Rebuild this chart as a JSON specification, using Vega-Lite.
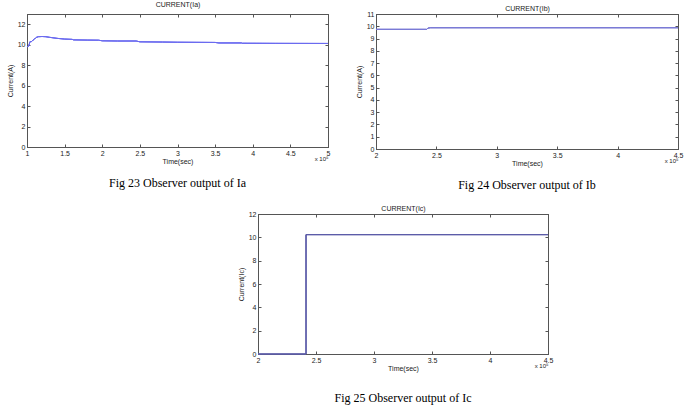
{
  "$schema": "https://vega.github.io/schema/vega-lite/v6.json",
  "background": "white",
  "padding": {"left": 5, "top": 0, "right": 4, "bottom": 4},
  "datasets": {
    "ia": [
      {"t": 1.00, "i": 9.80}, {"t": 1.02, "i": 9.85}, {"t": 1.03, "i": 10.05}, {"t": 1.04, "i": 10.30},
      {"t": 1.06, "i": 10.30}, {"t": 1.08, "i": 10.45}, {"t": 1.10, "i": 10.55}, {"t": 1.12, "i": 10.70},
      {"t": 1.15, "i": 10.78}, {"t": 1.20, "i": 10.80}, {"t": 1.25, "i": 10.78}, {"t": 1.30, "i": 10.72},
      {"t": 1.40, "i": 10.62}, {"t": 1.50, "i": 10.55}, {"t": 1.60, "i": 10.52}, {"t": 1.62, "i": 10.47},
      {"t": 1.80, "i": 10.45}, {"t": 1.95, "i": 10.44}, {"t": 2.00, "i": 10.38}, {"t": 2.20, "i": 10.36},
      {"t": 2.45, "i": 10.36}, {"t": 2.50, "i": 10.28}, {"t": 2.80, "i": 10.26}, {"t": 3.00, "i": 10.24},
      {"t": 3.50, "i": 10.22}, {"t": 3.55, "i": 10.17}, {"t": 3.85, "i": 10.17}, {"t": 3.86, "i": 10.14},
      {"t": 4.30, "i": 10.13}, {"t": 5.00, "i": 10.12}
    ],
    "ib": [
      {"t": 2.0, "i": 9.75, "k": 1}, {"t": 2.42, "i": 9.75, "k": 2}, {"t": 2.43, "i": 9.85, "k": 3},
      {"t": 2.45, "i": 9.88, "k": 4}, {"t": 4.5, "i": 9.88, "k": 5}
    ],
    "ic": [
      {"t": 2.0, "i": 0, "k": 1}, {"t": 2.414, "i": 0, "k": 2}, {"t": 2.414, "i": 10.23, "k": 3}, {"t": 4.5, "i": 10.23, "k": 4}
    ],
    "none": []
  },
  "config": {
    "view": {"stroke": "#555"},
    "axis": {
      "grid": false,
      "labelFont": "Liberation Sans",
      "labelFontSize": 7,
      "labelColor": "#222",
      "titleFont": "Liberation Sans",
      "titleFontSize": 7,
      "titleFontWeight": "normal",
      "titleColor": "#222",
      "domainColor": "#555",
      "tickColor": "#555",
      "tickSize": -3,
      "labelPadding": 5,
      "labelFlush": false,
      "labelOverlap": false,
      "format": "~g"
    },
    "title": {"font": "Liberation Serif", "fontSize": 12, "fontWeight": "normal", "color": "#000"}
  },
  "vconcat": [
    {
      "hconcat": [
        {
          "width": 301, "height": 133,
          "title": {"text": "Fig 23 Observer output of Ia", "orient": "bottom", "offset": 14},
          "data": {"name": "ia"},
          "resolve": {"axis": {"x": "independent", "y": "independent"}},
          "layer": [
            {
              "mark": {"type": "line", "color": "#6b6bf0", "strokeWidth": 1},
              "encoding": {
                "x": {"field": "t", "type": "quantitative", "scale": {"domain": [1, 5], "nice": false},
                      "axis": {"values": [1, 1.5, 2, 2.5, 3, 3.5, 4, 4.5, 5], "title": "Time(sec)", "titlePadding": 1}},
                "y": {"field": "i", "type": "quantitative", "scale": {"domain": [0, 13], "nice": false},
                      "axis": {"values": [0, 2, 4, 6, 8, 10, 12], "title": "Current(A)", "titlePadding": 4}}
              }
            },
            {
              "mark": {"type": "line", "color": "#6b6bf0", "strokeWidth": 1},
              "encoding": {
                "x": {"field": "t", "type": "quantitative",
                      "axis": {"orient": "top", "labels": false, "values": [1, 1.5, 2, 2.5, 3, 3.5, 4, 4.5, 5], "title": "CURRENT(Ia)", "titlePadding": 6}},
                "y": {"field": "i", "type": "quantitative",
                      "axis": {"orient": "right", "labels": false, "values": [0, 2, 4, 6, 8, 10, 12], "title": null}}
              }
            },
            {
              "mark": {"type": "line", "color": "#6b6bf0", "strokeWidth": 1},
              "encoding": {
                "x": {"field": "t", "type": "quantitative",
                      "axis": {"orient": "bottom", "labels": false, "ticks": false, "domain": false, "title": "x 10⁵", "titleAnchor": "end", "titleFontSize": 6, "titleY": 8}},
                "y": {"field": "i", "type": "quantitative", "axis": null}
              }
            }
          ]
        },
        {
          "width": 302, "height": 135,
          "title": {"text": "Fig 24 Observer output of Ib", "orient": "bottom", "offset": 14},
          "data": {"name": "ib"},
          "resolve": {"axis": {"x": "independent", "y": "independent"}},
          "layer": [
            {
              "mark": {"type": "line", "color": "#7a7ad6", "strokeWidth": 1},
              "encoding": {
                "x": {"field": "t", "type": "quantitative", "scale": {"domain": [2, 4.5], "nice": false},
                      "axis": {"values": [2, 2.5, 3, 3.5, 4, 4.5], "title": "Time(sec)", "titlePadding": 1}},
                "y": {"field": "i", "type": "quantitative", "scale": {"domain": [0, 11], "nice": false},
                      "axis": {"values": [0, 1, 2, 3, 4, 5, 6, 7, 8, 9, 10, 11], "title": "Current(A)", "titlePadding": 4}},
                "order": {"field": "k", "type": "quantitative"}
              }
            },
            {
              "mark": {"type": "line", "color": "#7a7ad6", "strokeWidth": 1},
              "encoding": {
                "x": {"field": "t", "type": "quantitative",
                      "axis": {"orient": "top", "labels": false, "values": [2, 2.5, 3, 3.5, 4, 4.5], "title": "CURRENT(Ib)", "titlePadding": 2}},
                "y": {"field": "i", "type": "quantitative",
                      "axis": {"orient": "right", "labels": false, "values": [0, 1, 2, 3, 4, 5, 6, 7, 8, 9, 10, 11], "title": null}},
                "order": {"field": "k", "type": "quantitative"}
              }
            },
            {
              "mark": {"type": "line", "color": "#7a7ad6", "strokeWidth": 1},
              "encoding": {
                "x": {"field": "t", "type": "quantitative",
                      "axis": {"orient": "bottom", "labels": false, "ticks": false, "domain": false, "title": "x 10⁵", "titleAnchor": "end", "titleFontSize": 6, "titleY": 8}},
                "y": {"field": "i", "type": "quantitative", "axis": null},
                "order": {"field": "k", "type": "quantitative"}
              }
            }
          ]
        }
      ],
      "spacing": 23
    },
    {
      "hconcat": [
        {
          "width": 209, "height": 10,
          "view": {"stroke": null},
          "data": {"name": "none"},
          "mark": "point",
          "encoding": {}
        },
        {
          "width": 290, "height": 140,
          "title": {"text": "Fig 25 Observer output of Ic", "orient": "bottom", "offset": 22},
          "data": {"name": "ic"},
          "resolve": {"axis": {"x": "independent", "y": "independent"}},
          "layer": [
            {
              "mark": {"type": "line", "color": "#5c5ca8", "strokeWidth": 1},
              "encoding": {
                "x": {"field": "t", "type": "quantitative", "scale": {"domain": [2, 4.5], "nice": false},
                      "axis": {"values": [2, 2.5, 3, 3.5, 4, 4.5], "title": "Time(sec)", "titlePadding": 1}},
                "y": {"field": "i", "type": "quantitative", "scale": {"domain": [0, 12], "nice": false},
                      "axis": {"values": [0, 2, 4, 6, 8, 10, 12], "title": "Current(Ic)", "titlePadding": 4}},
                "order": {"field": "k", "type": "quantitative"}
              }
            },
            {
              "mark": {"type": "line", "color": "#5c5ca8", "strokeWidth": 1},
              "encoding": {
                "x": {"field": "t", "type": "quantitative",
                      "axis": {"orient": "top", "labels": false, "values": [2, 2.5, 3, 3.5, 4, 4.5], "title": "CURRENT(Ic)", "titlePadding": 2}},
                "y": {"field": "i", "type": "quantitative",
                      "axis": {"orient": "right", "labels": false, "values": [0, 2, 4, 6, 8, 10, 12], "title": null}},
                "order": {"field": "k", "type": "quantitative"}
              }
            },
            {
              "mark": {"type": "line", "color": "#5c5ca8", "strokeWidth": 1},
              "encoding": {
                "x": {"field": "t", "type": "quantitative",
                      "axis": {"orient": "bottom", "labels": false, "ticks": false, "domain": false, "title": "x 10⁵", "titleAnchor": "end", "titleFontSize": 6, "titleY": 8}},
                "y": {"field": "i", "type": "quantitative", "axis": null},
                "order": {"field": "k", "type": "quantitative"}
              }
            }
          ]
        }
      ],
      "spacing": 0
    }
  ],
  "spacing": 12
}
